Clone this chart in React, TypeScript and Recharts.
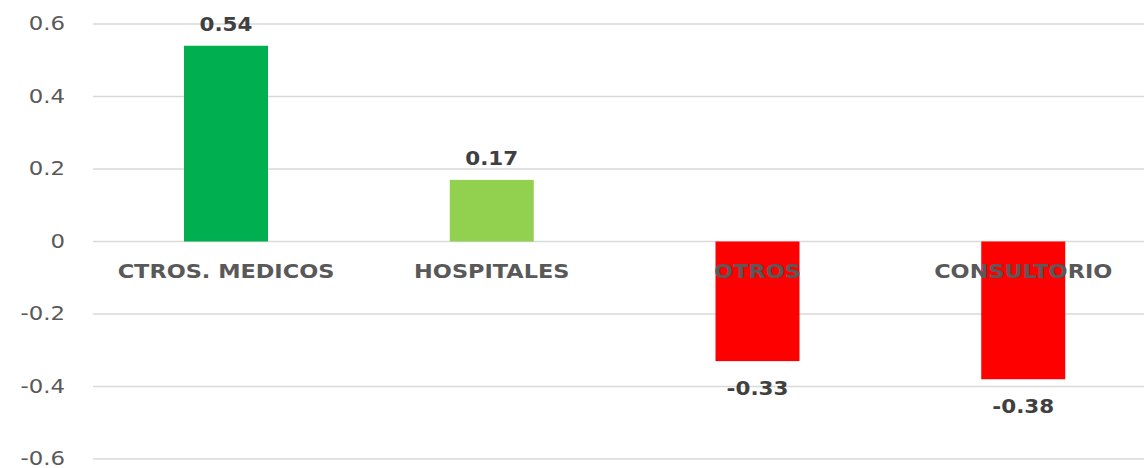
import React from "react";
import { BarChart, Bar, XAxis, YAxis, CartesianGrid } from "recharts";

const categories = ["CTROS. MEDICOS", "HOSPITALES", "OTROS", "CONSULTORIO"];
const values = [0.54, 0.17, -0.33, -0.38];
const colors = ["#00B050", "#92D050", "#FF0000", "#FF0000"];
const yTicks = [-0.6, -0.4, -0.2, 0, 0.2, 0.4, 0.6];

const data = categories.map((name, i) => ({ name, value: values[i], color: colors[i] }));

const TEXT = "#595959";
const FONT = "'DejaVu Sans', Verdana, sans-serif";

const YTick = (props: any) => {
  const { x, y, payload } = props;
  const v = payload.value;
  const label = Math.abs(v) < 1e-9 ? "0" : v.toFixed(1);
  return (
    <text
      transform={`translate(${x},${y}) scale(1.2,1)`}
      textAnchor="end"
      dominantBaseline="central"
      fontFamily={FONT}
      fontSize={19}
      fill={TEXT}
    >
      {label}
    </text>
  );
};

const BarShape = (props: any) => {
  const { x, y, width, height, payload } = props;
  const top = Math.min(y, y + height);
  const bottom = Math.max(y, y + height);
  const h = bottom - top;
  const v = payload.value;
  const zero = v >= 0 ? bottom : top;
  const cx = x + width / 2;
  const valueY = v >= 0 ? top - 21 : bottom + 27;
  return (
    <g>
      <rect x={x} y={top} width={width} height={h} fill={payload.color} />
      <text
        transform={`translate(${cx},${zero + 30}) scale(1.15,1)`}
        textAnchor="middle"
        dominantBaseline="central"
        fontFamily={FONT}
        fontWeight="bold"
        fontSize={19.5}
        fill={TEXT}
      >
        {payload.name}
      </text>
      <text
        transform={`translate(${cx},${valueY}) scale(1.13,1)`}
        textAnchor="middle"
        dominantBaseline="central"
        fontFamily={FONT}
        fontWeight="bold"
        fontSize={19}
        fill="#404040"
      >
        {v.toFixed(2)}
      </text>
    </g>
  );
};

export default function App() {
  return (
    <div
      style={{
        position: "absolute",
        left: 0,
        top: 0,
        width: 1144,
        height: 468,
        overflow: "hidden",
        background: "#fff",
      }}
    >
      <BarChart
        width={1156}
        height={468}
        data={data}
        margin={{ top: 24, right: 0, bottom: 9, left: 0 }}
        barCategoryGap={0}
      >
        <CartesianGrid vertical={false} stroke="#d9d9d9" strokeWidth={1.5} />
        <XAxis dataKey="name" hide />
        <YAxis
          width={93}
          domain={[-0.6, 0.6]}
          ticks={yTicks}
          axisLine={false}
          tickLine={false}
          tickSize={0}
          tickMargin={28}
          tick={<YTick />}
          interval={0}
        />
        <Bar dataKey="value" barSize={84} shape={<BarShape />} isAnimationActive={false} />
      </BarChart>
    </div>
  );
}
